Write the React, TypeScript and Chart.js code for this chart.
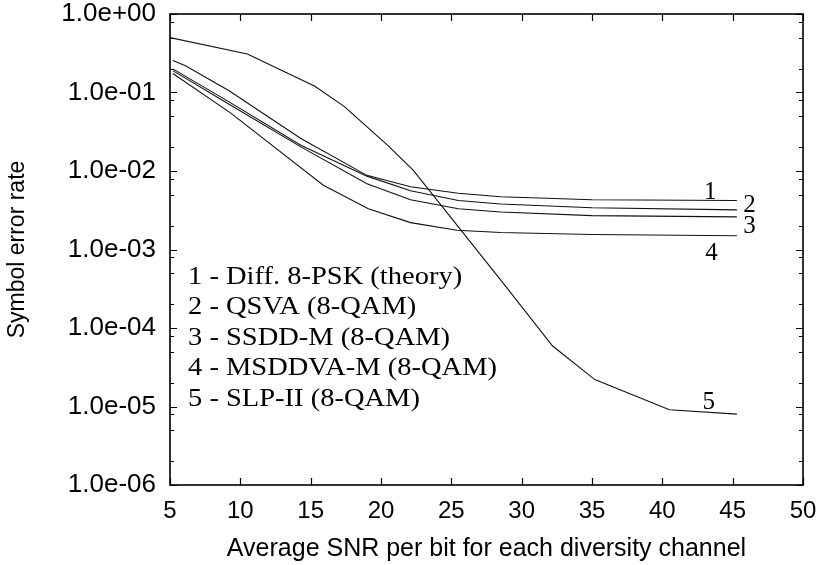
import { useEffect, useRef } from "react";
import { Chart, registerables } from "chart.js";

Chart.register(...registerables);

// Symbol error rate vs. average SNR per bit, five receivers
const snrDiffPsk = [5.2, 6.1, 9.2, 14.3, 19.0, 22.1, 25.5, 28.5, 35, 45.3];
const serDiffPsk = [0.255, 0.219, 0.105, 0.026, 0.0088, 0.0063, 0.0052, 0.0047, 0.0043, 0.0042];

const snrQsva = [5.2, 9.2, 14.3, 19.0, 22.1, 25.5, 28.5, 35, 45.3];
const serQsva = [0.2, 0.076, 0.0213, 0.0086, 0.0056, 0.0042, 0.0038, 0.0034, 0.0032];

const snrSsdd = [5.2, 9.2, 14.3, 19.0, 22.1, 25.5, 28.5, 35, 45.3];
const serSsdd = [0.19, 0.071, 0.0203, 0.0069, 0.0043, 0.0033, 0.003, 0.0027, 0.0026];

const snrMsddva = [5.2, 9.3, 15.9, 19.1, 22.1, 25.4, 28.5, 35, 45.3];
const serMsddva = [0.175, 0.055, 0.0066, 0.0033, 0.0022, 0.00176, 0.00165, 0.00155, 0.0015];

const snrSlp = [5, 10.5, 15.3, 17.4, 20.5, 22.3, 28.5, 32.2, 35.2, 40.5, 45.3];
const serSlp = [0.5, 0.31, 0.12, 0.066, 0.021, 0.0102, 4.1e-4, 5.9e-5, 2.2e-5, 9.1e-6, 8e-6];

// Curve numbers placed next to the line ends (data coordinates)
const curveTags = ["1", "2", "3", "4", "5"];
const curveTagX = [43.4, 46.2, 46.2, 43.5, 43.3];
const curveTagY = [5.4e-3, 3.66e-3, 1.94e-3, 8.9e-4, 1.13e-5];

const legendLines = [
  "1 - Diff. 8-PSK (theory)",
  "2 - QSVA (8-QAM)",
  "3 - SSDD-M (8-QAM)",
  "4 - MSDDVA-M (8-QAM)",
  "5 - SLP-II (8-QAM)",
];

const decades = [1e-6, 1e-5, 1e-4, 1e-3, 1e-2, 1e-1, 1];
const minorFactors = [2, 5, 8];
const xTicks = [5, 10, 15, 20, 25, 30, 35, 40, 45, 50];

const SANS = "'Liberation Sans', Arial, sans-serif";
const SERIF = "'Liberation Serif', 'Times New Roman', serif";

function fmtExp(v: number): string {
  const e = Math.round(Math.log10(v));
  const sign = e < 0 ? "-" : "+";
  return `1.0e${sign}${String(Math.abs(e)).padStart(2, "0")}`;
}

function pts(xs: number[], ys: number[]) {
  return xs.map((x, i) => ({ x, y: ys[i] }));
}

const framePlugin = {
  id: "frameAndNotes",
  afterDatasetsDraw(chart: any) {
    const { ctx, chartArea: a, scales } = chart;
    const xs = scales.x;
    const ys = scales.y;
    ctx.save();
    ctx.strokeStyle = "#000";
    ctx.lineWidth = 1.6;
    ctx.strokeRect(a.left, a.top, a.right - a.left, a.bottom - a.top);

    ctx.lineWidth = 1.2;
    ctx.beginPath();
    const major = 7;
    const minor = 4;
    for (const v of xTicks) {
      const px = Math.round(xs.getPixelForValue(v)) + 0.5;
      ctx.moveTo(px, a.bottom);
      ctx.lineTo(px, a.bottom - major);
      ctx.moveTo(px, a.top);
      ctx.lineTo(px, a.top + major);
    }
    for (const d of decades) {
      const py = Math.round(ys.getPixelForValue(d)) + 0.5;
      ctx.moveTo(a.left, py);
      ctx.lineTo(a.left + major, py);
      ctx.moveTo(a.right, py);
      ctx.lineTo(a.right - major, py);
      if (d < 1) {
        for (const f of minorFactors) {
          const mp = Math.round(ys.getPixelForValue(d * f)) + 0.5;
          ctx.moveTo(a.left, mp);
          ctx.lineTo(a.left + minor, mp);
          ctx.moveTo(a.right, mp);
          ctx.lineTo(a.right - minor, mp);
        }
      }
    }
    ctx.stroke();

    ctx.fillStyle = "#000";
    ctx.font = `25px ${SERIF}`;
    ctx.textAlign = "center";
    ctx.textBaseline = "middle";
    curveTags.forEach((t, i) => {
      ctx.fillText(t, xs.getPixelForValue(curveTagX[i]), ys.getPixelForValue(curveTagY[i]));
    });

    ctx.textAlign = "left";
    legendLines.forEach((t, i) => {
      ctx.save();
      const x = a.left + 18;
      const y = a.top + 263 + i * 30.5;
      ctx.translate(x, y);
      ctx.scale(1.14, 1);
      ctx.fillText(t, 0, 0);
      ctx.restore();
    });
    ctx.restore();
  },
};

export default function App() {
  const ref = useRef<HTMLCanvasElement | null>(null);

  useEffect(() => {
    if (!ref.current) return;
    const line = (xs: number[], ys: number[]) => ({
      data: pts(xs, ys),
      borderColor: "#111",
      borderWidth: 1.1,
      pointRadius: 0,
      fill: false,
      tension: 0,
    });
    const chart = new Chart(ref.current, {
      type: "line",
      data: {
        datasets: [
          { label: legendLines[0], ...line(snrDiffPsk, serDiffPsk) },
          { label: legendLines[1], ...line(snrQsva, serQsva) },
          { label: legendLines[2], ...line(snrSsdd, serSsdd) },
          { label: legendLines[3], ...line(snrMsddva, serMsddva) },
          { label: legendLines[4], ...line(snrSlp, serSlp) },
        ],
      },
      options: {
        responsive: false,
        animation: false,
        layout: { padding: { top: 14, right: 15, left: 0, bottom: 0 } },
        plugins: { legend: { display: false }, tooltip: { enabled: false } },
        scales: {
          x: {
            type: "linear",
            min: 5,
            max: 50,
            afterFit: (s: any) => {
              s.height = 80;
              s.paddingLeft = 0;
              s.paddingRight = 0;
            },
            afterBuildTicks: (s: any) => {
              s.ticks = xTicks.map((v) => ({ value: v }));
            },
            grid: { display: false, drawTicks: false },
            border: { display: false },
            ticks: {
              color: "#000",
              font: { family: SANS, size: 24 },
              padding: 12,
              maxRotation: 0,
              autoSkip: false,
            },
            title: {
              display: true,
              text: "Average SNR per bit for each diversity channel",
              color: "#000",
              font: { family: SANS, size: 25 },
              padding: { top: 0, bottom: 1 },
            },
          },
          y: {
            type: "logarithmic",
            min: 1e-6,
            max: 1,
            afterFit: (s: any) => {
              s.width = 170;
              s.paddingTop = 0;
              s.paddingBottom = 0;
            },
            afterBuildTicks: (s: any) => {
              s.ticks = decades.map((v) => ({ value: v }));
            },
            grid: { display: false, drawTicks: false },
            border: { display: false },
            ticks: {
              color: "#000",
              font: { family: SANS, size: 26 },
              padding: 14,
              autoSkip: false,
              callback: (v: any) => fmtExp(Number(v)),
            },
            title: {
              display: true,
              text: "Symbol error rate",
              color: "#000",
              font: { family: SANS, size: 23 },
              padding: { top: 4, bottom: 0 },
            },
          },
        },
      },
      plugins: [framePlugin],
    });
    return () => chart.destroy();
  }, []);

  return (
    <div style={{ position: "absolute", left: 0, top: 0, width: 818, height: 565, background: "#fff" }}>
      <canvas ref={ref} width={818} height={565} style={{ display: "block" }} />
    </div>
  );
}
